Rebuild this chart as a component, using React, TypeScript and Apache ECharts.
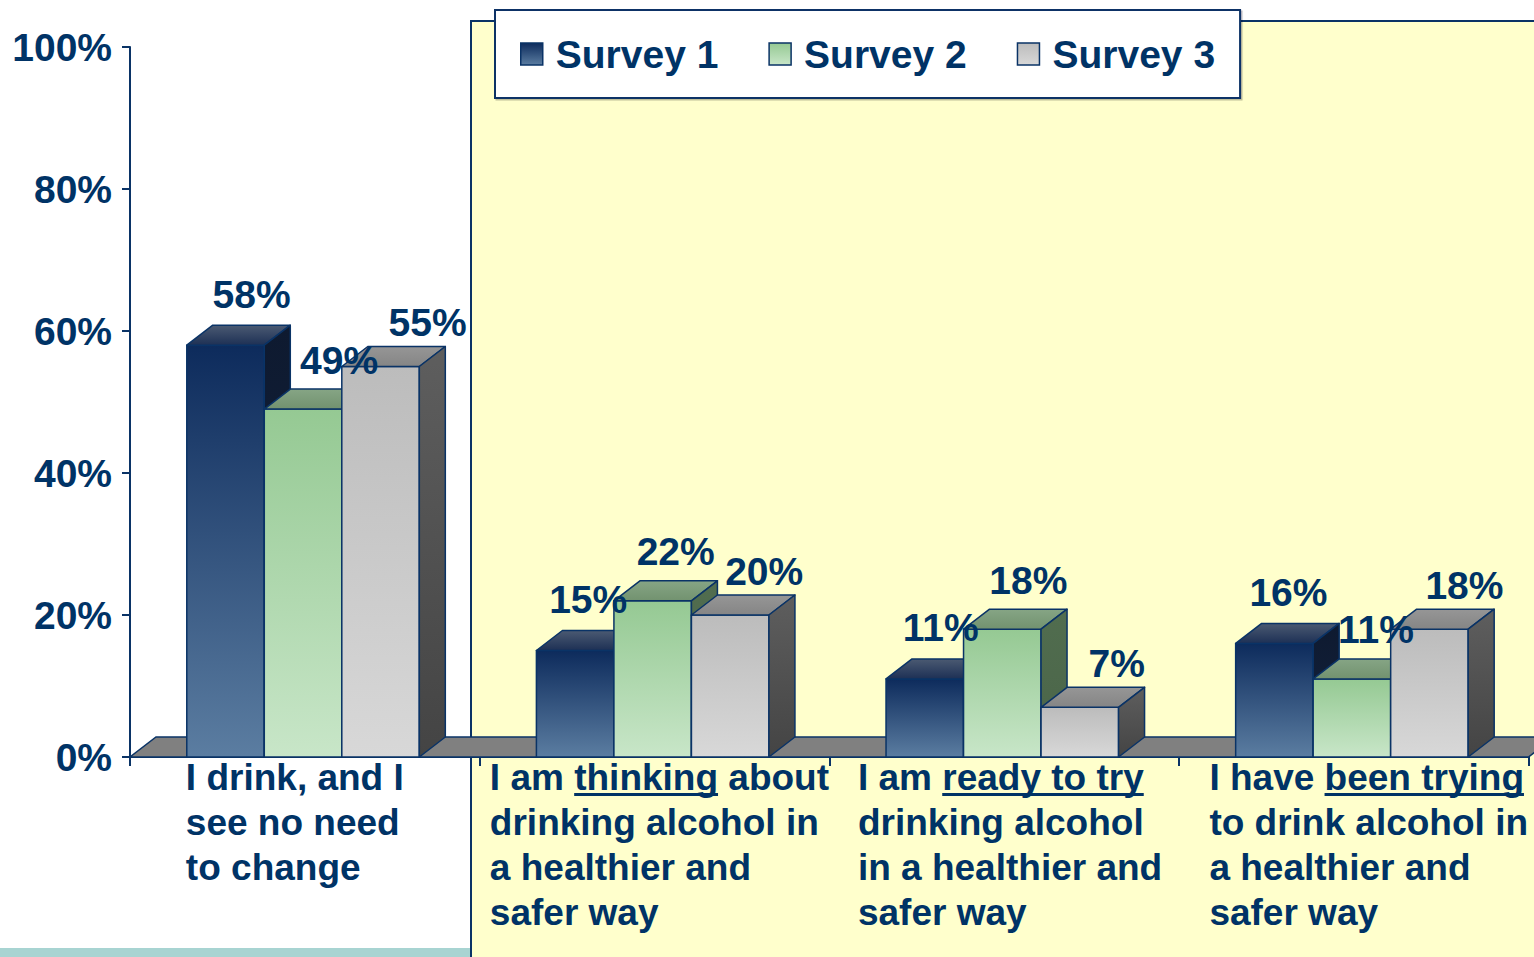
import React, { useEffect, useRef } from 'react';
import * as echarts from 'echarts';

const categories = [
  'I drink, and I\nsee no need\nto change',
  'I am thinking about\ndrinking alcohol in\na healthier and\nsafer way',
  'I am ready to try\ndrinking alcohol\nin a healthier and\nsafer way',
  'I have been trying\nto drink alcohol in\na healthier and\nsafer way',
];
const underlinedWords = ['', 'thinking', 'ready to try', 'been trying'];
const seriesNames = ['Survey 1', 'Survey 2', 'Survey 3'];
const survey1 = [58, 15, 11, 16];
const survey2 = [49, 22, 18, 11];
const survey3 = [55, 20, 7, 18];
const surveyValues = [survey1, survey2, survey3];

const NAVY = '#0a3366';
const TEXT = '#003366';
const FONT = '"Liberation Sans", Arial, Helvetica, sans-serif';
const CAT_FONT = 37;
const VAL_FONT = 39;
const CAT_LH = 45;
const CAT_MARGIN = -2;
const DX = 26;
const DY = -20;
// horizontal nudge of each category's text block (px)
const catLabelShift = [-10, 5, 6, 15];
// horizontal nudge of value labels per category group (px)
const valueGroupShift = [9, -4, -1, -3];

const faceColors = [
  { front: ['#0d2b5c', '#5b7da1'], top: ['#4b5a72', '#1d3055'], side: ['#0e1a30', '#14223e'] },
  { front: ['#95c993', '#c8e6c8'], top: ['#86a585', '#72926f'], side: ['#516d4f', '#4a6448'] },
  { front: ['#bcbcbc', '#d8d8d8'], top: ['#969696', '#858585'], side: ['#5e5e5e', '#444444'] },
];
const labelDx = [17, 27, 38];
const labelLift = [31, 29, 24];

const lg = (c: string[]) => ({
  type: 'linear', x: 0, y: 0, x2: 0, y2: 1,
  colorStops: [{ offset: 0, color: c[0] }, { offset: 1, color: c[1] }],
});

const makeRender = (s: number) => (params: any, api: any) => {
  const cat = api.value(0);
  const v = api.value(1);
  const base = api.coord([cat, 0]);
  const top = api.coord([cat, v]);
  const cw = api.size([1, 0])[0];
  const bw = cw * 0.2217;
  const x0 = base[0] - cw * 0.3376 + s * bw;
  const x1 = x0 + bw;
  const ty = top[1];
  const by = base[1];
  const fc = faceColors[s];
  const edge = { stroke: NAVY, lineWidth: 1.5, lineJoin: 'round' };
  return {
    type: 'group',
    children: [
      { type: 'rect', shape: { x: x0, y: ty, width: bw, height: by - ty }, style: { fill: lg(fc.front), ...edge } },
      {
        type: 'polygon',
        shape: { points: [[x0, ty], [x1, ty], [x1 + DX, ty + DY], [x0 + DX, ty + DY]] },
        style: { fill: lg(fc.top), ...edge },
      },
      {
        type: 'polygon',
        shape: { points: [[x1, ty], [x1 + DX, ty + DY], [x1 + DX, by + DY], [x1, by]] },
        style: { fill: lg(fc.side), ...edge },
      },
      {
        type: 'text',
        z2: 100,
        style: {
          text: v + '%',
          x: (x0 + x1) / 2 + labelDx[s] + valueGroupShift[params.dataIndex],
          y: ty + DY - labelLift[s],
          textAlign: 'center',
          textVerticalAlign: 'middle',
          fontSize: VAL_FONT,
          fontWeight: 'bold',
          fontFamily: FONT,
          fill: TEXT,
        },
      },
    ],
  };
};

const floorRender = (params: any, api: any) => {
  const first = api.coord([0, 0]);
  const cw = api.size([1, 0])[0];
  const L = first[0] - cw / 2;
  const R = L + cw * categories.length;
  const by = first[1];
  return {
    type: 'polygon',
    shape: { points: [[L, by], [R, by], [R + DX, by + DY], [L + DX, by + DY]] },
    style: { fill: '#808080', stroke: NAVY, lineWidth: 1.5 },
  };
};

const staticGraphics = [
  {
    id: 'panel', type: 'rect', z: -1,
    shape: { x: 471, y: 21, width: 1200, height: 1100 },
    style: { fill: '#ffffcc', stroke: NAVY, lineWidth: 2 },
  },
  {
    id: 'strip', type: 'rect', z: -1,
    shape: { x: 0, y: 948, width: 470, height: 20 },
    style: { fill: '#a8d4d2' },
  },
];

const richStyles: any = {};
catLabelShift.forEach((sh, i) => {
  richStyles['c' + i] = {
    fontSize: CAT_FONT,
    fontWeight: 'bold',
    fontFamily: FONT,
    color: TEXT,
    lineHeight: CAT_LH,
    align: 'left',
    padding: sh >= 0 ? [0, 0, 0, 2 * sh] : [0, -2 * sh, 0, 0],
  };
});

export default function App() {
  const ref = useRef<HTMLDivElement>(null);
  useEffect(() => {
    if (!ref.current) return;
    const chart = echarts.init(ref.current, undefined, { renderer: 'svg' });
    const option: any = {
      animation: false,
      backgroundColor: '#ffffff',
      grid: { left: 130, right: 5.5, top: 47, bottom: 200, containLabel: false },
      legend: {
        left: 495,
        top: 10,
        padding: [22, 25, 22, 25],
        itemGap: 50,
        itemWidth: 22,
        itemHeight: 22,
        icon: 'rect',
        backgroundColor: '#ffffff',
        borderColor: NAVY,
        borderWidth: 2,
        shadowColor: 'rgba(0,0,0,0.25)',
        shadowOffsetX: 1.5,
        shadowOffsetY: 1.5,
        shadowBlur: 1,
        data: seriesNames.map((n, i) => ({
          name: n,
          itemStyle: { color: lg(faceColors[i].front), borderColor: NAVY, borderWidth: 1.5 },
        })),
        textStyle: {
          fontSize: VAL_FONT,
          fontWeight: 'bold',
          fontFamily: FONT,
          color: TEXT,
          lineHeight: 44,
          padding: [0, 0, 0, 8],
        },
      },
      xAxis: {
        type: 'category',
        data: categories,
        boundaryGap: true,
        axisLine: { show: true, lineStyle: { color: NAVY, width: 2 } },
        axisTick: { show: true, length: 9, lineStyle: { color: NAVY, width: 2 } },
        splitLine: { show: false },
        axisLabel: {
          interval: 0,
          margin: CAT_MARGIN,
          align: 'center',
          formatter: (val: string, idx: number) =>
            val.split('\n').map((l) => `{c${idx}|${l}}`).join('\n'),
          rich: richStyles,
        },
      },
      yAxis: {
        type: 'value',
        min: 0,
        max: 100,
        interval: 20,
        axisLine: { show: true, lineStyle: { color: NAVY, width: 2 } },
        axisTick: { show: true, length: 8, lineStyle: { color: NAVY, width: 2 } },
        splitLine: { show: false },
        axisLabel: {
          formatter: '{value}%',
          margin: 18,
          fontSize: VAL_FONT,
          fontWeight: 'bold',
          fontFamily: FONT,
          color: TEXT,
        },
      },
      graphic: staticGraphics,
      series: [
        {
          type: 'custom',
          name: 'floor',
          silent: true,
          clip: false,
          renderItem: floorRender,
          data: [[0, 0]],
          encode: { x: 0, y: 1 },
        },
        ...seriesNames.map((n, s) => ({
          type: 'custom',
          name: n,
          silent: true,
          clip: false,
          itemStyle: { color: lg(faceColors[s].front), borderColor: NAVY, borderWidth: 1.5 },
          renderItem: makeRender(s),
          encode: { x: 0, y: 1 },
          data: surveyValues[s].map((v, i) => [i, v]),
        })),
      ],
    };
    chart.setOption(option);

    // underlines under emphasized words, measured with the same font as the axis labels
    const canvas = document.createElement('canvas');
    const ctx = canvas.getContext('2d');
    const lines: any[] = [];
    if (ctx) {
      ctx.font = `bold ${CAT_FONT}px ${FONT}`;
      const axisY = chart.convertToPixel({ yAxisIndex: 0 }, 0) as number;
      categories.forEach((cat, i) => {
        const word = underlinedWords[i];
        if (!word) return;
        const rows = cat.split('\n');
        const blockW = Math.max(...rows.map((r) => ctx.measureText(r).width));
        const cx = chart.convertToPixel({ xAxisIndex: 0 }, i) as number;
        const left = cx - blockW / 2 + catLabelShift[i];
        const idx = rows[0].indexOf(word);
        const start = left + ctx.measureText(rows[0].slice(0, idx)).width;
        const end = start + ctx.measureText(word).width;
        const y = axisY + CAT_MARGIN + CAT_LH / 2 + 0.31 * CAT_FONT + 5.5;
        lines.push({
          id: 'ul' + i,
          type: 'line',
          z: 10,
          shape: { x1: start, y1: y, x2: end, y2: y },
          style: { stroke: TEXT, lineWidth: 3 },
        });
      });
    }
    chart.setOption({ graphic: [...staticGraphics, ...lines] });

    return () => chart.dispose();
  }, []);
  return (
    <div
      ref={ref}
      style={{ position: 'fixed', left: 0, top: 0, width: 1534, height: 957, background: '#fff' }}
    />
  );
}
